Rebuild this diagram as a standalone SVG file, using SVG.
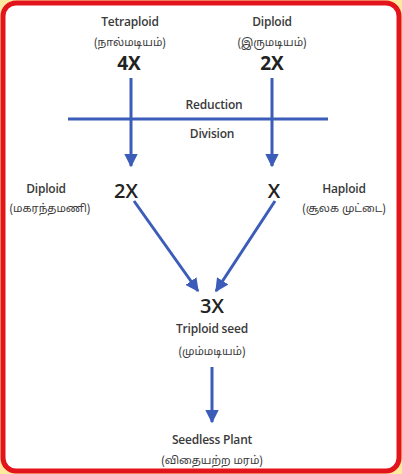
<svg xmlns="http://www.w3.org/2000/svg" width="402" height="474" viewBox="0 0 402 474">
<style>
.lbl{font-family:"Open Sans","Liberation Sans",sans-serif;font-size:12px;fill:#3a3a3a;text-anchor:middle;font-weight:600;letter-spacing:-0.2px}
.ta{font-family:"Noto Sans Tamil","Noto Sans","Liberation Sans",sans-serif;font-size:11px;fill:#3a3a3a;text-anchor:middle}
.big{font-family:"Open Sans","Liberation Sans",sans-serif;font-size:20px;fill:#222;text-anchor:middle;font-weight:600}
.bigb{font-family:"Open Sans","Liberation Sans",sans-serif;font-size:19px;fill:#222;text-anchor:middle;font-weight:bold}
.ln{stroke:#3b5cb8;stroke-width:3;fill:none}
</style>
<defs>
<marker id="ah" viewBox="0 0 10 10" refX="9" refY="5" markerWidth="4.5" markerHeight="4.5" orient="auto" markerUnits="strokeWidth">
<path d="M0,0 L10,5 L0,10 Z" fill="#3b5cb8"/>
</marker>
</defs>
<rect x="0" y="0" width="402" height="474" fill="#fde9a0"/>
<rect x="3" y="3" width="396" height="468" rx="13" ry="13" fill="#fff" stroke="#e3141b" stroke-width="5"/>
<g id="connectors">
<line class="ln" x1="68" y1="119" x2="328" y2="119"/>
<line class="ln" x1="131" y1="78" x2="131" y2="166" marker-end="url(#ah)"/>
<line class="ln" x1="272" y1="78" x2="272" y2="166" marker-end="url(#ah)"/>
<line class="ln" x1="134" y1="201" x2="198" y2="291" marker-end="url(#ah)"/>
<line class="ln" x1="275" y1="201" x2="216" y2="291" marker-end="url(#ah)"/>
<line class="ln" x1="212" y1="367" x2="212" y2="422" marker-end="url(#ah)"/>
</g>
<g id="tetraploid">
<text class="lbl" x="130" y="26">Tetraploid</text>
<text class="ta" x="130" y="46">(நால்மடியம்)</text>
<text class="bigb" x="129" y="70">4X</text>
</g>
<g id="diploid-top">
<text class="lbl" x="272" y="26">Diploid</text>
<text class="ta" x="272" y="46">(இருமடியம்)</text>
<text class="bigb" x="272" y="70">2X</text>
</g>
<g id="reduction">
<text class="lbl" x="214" y="109">Reduction</text>
<text class="lbl" x="212" y="138">Division</text>
</g>
<g id="diploid-pollen">
<text class="lbl" x="46" y="193">Diploid</text>
<text class="ta" x="50" y="212">(மகரந்தமணி)</text>
<text class="big" x="126" y="198">2X</text>
</g>
<g id="haploid">
<text class="big" x="274" y="198">X</text>
<text class="lbl" x="344" y="193">Haploid</text>
<text class="ta" x="344" y="212">(சூலக முட்டை)</text>
</g>
<g id="triploid">
<text class="big" x="212" y="313">3X</text>
<text class="lbl" x="212" y="333">Triploid seed</text>
<text class="ta" x="212" y="355">(மும்மடியம்)</text>
</g>
<g id="seedless">
<text class="lbl" x="212" y="444">Seedless Plant</text>
<text class="ta" x="212" y="464">(விதையற்ற மரம்)</text>
</g>
</svg>
